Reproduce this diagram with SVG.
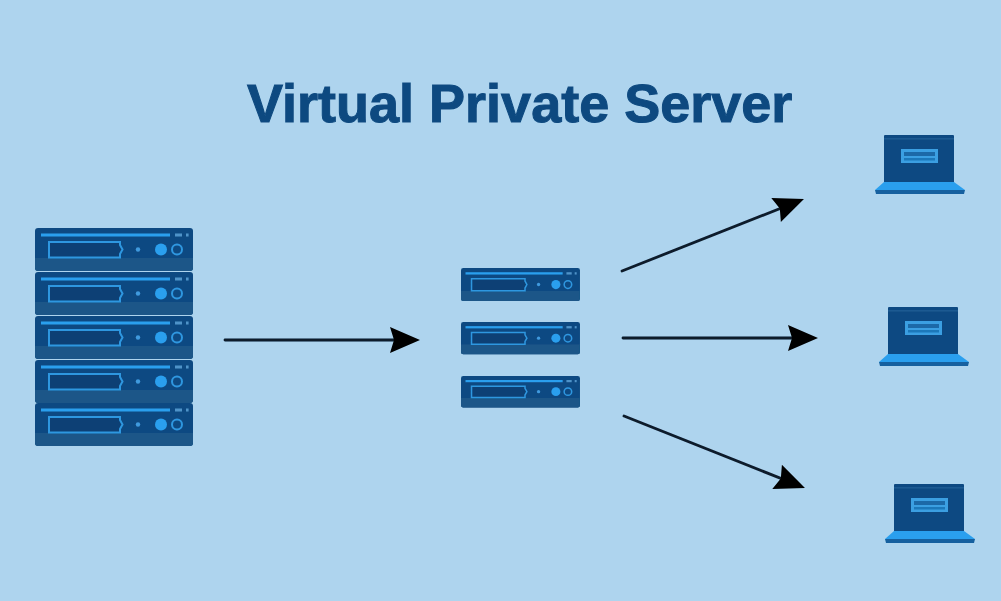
<svg xmlns="http://www.w3.org/2000/svg" xmlns:xlink="http://www.w3.org/1999/xlink" width="1001" height="601" viewBox="0 0 1001 601">
<style>
.title{font-family:"Liberation Sans",Arial,sans-serif;font-weight:700;font-size:54px;fill:#0f4a80;stroke:#0f4a80;stroke-width:1}
.conn{stroke:#0b1a2c;stroke-width:2.8;fill:none;stroke-linecap:round;marker-end:url(#head)}
.body{fill:#104a82}
.band{fill:#1a5788}
.lite{fill:#2a9fee}
.edge{fill:none;stroke:#2f97e0;stroke-width:2}
.soft{filter:url(#soft)}
</style>
<defs>
<filter id="soft" x="-5%" y="-5%" width="110%" height="110%"><feGaussianBlur stdDeviation="0.5"/></filter>
<marker id="head" markerUnits="userSpaceOnUse" markerWidth="34" markerHeight="30" viewBox="0 -15 32 30" refX="24" refY="0" orient="auto">
<path d="M0,-13 L30,0 L0,13 L4,0 Z" fill="#000"/>
</marker>
<g id="server">
<rect width="158" height="43" rx="3" class="body"/>
<path d="M0,30 H158 V40 a3,3 0 0 1 -3,3 H3 a3,3 0 0 1 -3,-3 Z" class="band"/>
<rect x="6" y="5.500" width="129" height="3" class="lite"/>
<rect x="140" y="5.500" width="7" height="3" fill="#4f93c9"/>
<rect x="151" y="5.500" width="2.600" height="3" fill="#4f93c9"/>
<path d="M14,14 H85 V17 L87.500,21.500 L85,26 V29.500 H14 Z" fill="#0d4175" stroke="#2f97e0" stroke-width="2"/>
<circle cx="103" cy="21.500" r="2.200" fill="#3f9ade"/>
<circle cx="126" cy="21.500" r="6" class="lite"/>
<circle cx="142" cy="21.500" r="5" class="edge"/>
</g>
<g id="laptop">
<rect x="9" y="0" width="70" height="48" rx="1" class="body"/>
<rect x="9" y="3" width="70" height="1.500" fill="#1b5a92"/>
<rect x="26" y="14" width="37" height="14" fill="#3a9fe2"/>
<rect x="29" y="17" width="31" height="4" fill="#1a69a8"/>
<rect x="29" y="23" width="31" height="2.500" fill="#1f78ba"/>
<path d="M9,47 H79 L90,55 H0 Z" class="lite"/>
<path d="M0,55 H90 L89,59 H1 Z" fill="#14609f"/>
</g>
</defs>
<rect id="background" width="1001" height="601" fill="#aed4ee"/>
<text id="title" class="title soft" x="247" y="122">Virtual Private Server</text>
<g id="connectors" class="soft">
<line class="conn" x1="225" y1="340" x2="414" y2="340"/>
<line class="conn" x1="622" y1="271" x2="798.400" y2="201.200"/>
<line class="conn" x1="623" y1="338" x2="812" y2="338"/>
<line class="conn" x1="624" y1="416" x2="799.400" y2="485.800"/>
</g>
<g class="soft">
<g id="source-1"><use href="#server" xlink:href="#server" x="35" y="228"/></g>
<g id="source-2"><use href="#server" xlink:href="#server" x="35" y="272"/></g>
<g id="source-3"><use href="#server" xlink:href="#server" x="35" y="316"/></g>
<g id="source-4"><use href="#server" xlink:href="#server" x="35" y="360"/></g>
<g id="source-5"><use href="#server" xlink:href="#server" x="35" y="403"/></g>
<g id="vps-1"><use href="#server" xlink:href="#server" transform="translate(461 268) scale(0.753 0.77)"/></g>
<g id="vps-2"><use href="#server" xlink:href="#server" transform="translate(461 322) scale(0.753 0.75)"/></g>
<g id="vps-3"><use href="#server" xlink:href="#server" transform="translate(461 376) scale(0.753 0.73)"/></g>
<g id="laptop-1"><use href="#laptop" xlink:href="#laptop" x="875" y="135"/></g>
<g id="laptop-2"><use href="#laptop" xlink:href="#laptop" x="879" y="307"/></g>
<g id="laptop-3"><use href="#laptop" xlink:href="#laptop" x="885" y="484"/></g>
</g>
</svg>
